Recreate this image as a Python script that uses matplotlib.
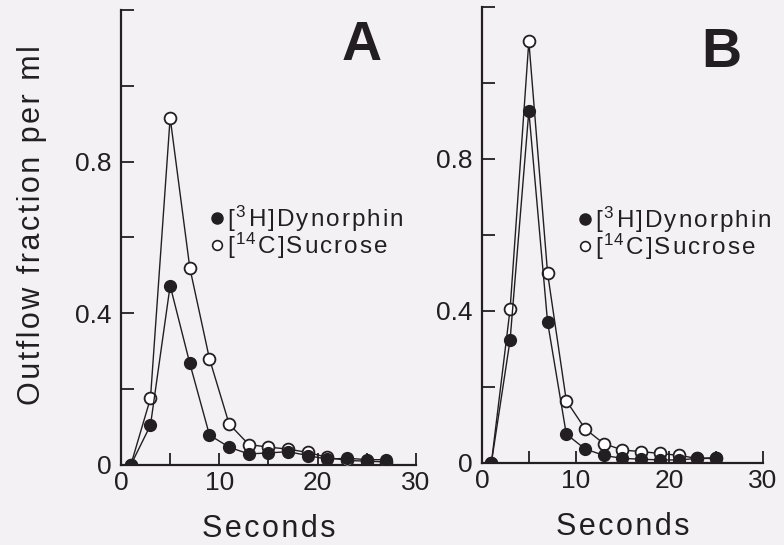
import matplotlib
matplotlib.use("Agg")
import matplotlib.pyplot as plt
from matplotlib.lines import Line2D

plt.rcParams['font.family'] = ['Liberation Sans', 'DejaVu Sans']
plt.rcParams['mathtext.default'] = 'regular'

ink = '#231e22'
paper = '#f4f1f4'
hs = '\u200a'  # hair space, used for the loose letter spacing

# sampling times (s), same for both experiments
t_a = [1, 3, 5, 7, 9, 11, 13, 15, 17, 19, 21, 23, 25, 27]
t_b = [1, 3, 5, 7, 9, 11, 13, 15, 17, 19, 21, 23, 25]

# panel A
dyn_a = [0.0, 0.105, 0.473, 0.268, 0.079, 0.047, 0.029, 0.032, 0.035, 0.025, 0.015, 0.018, 0.014, 0.014]
suc_a = [0.0, 0.176, 0.916, 0.52, 0.28, 0.108, 0.054, 0.047, 0.042, 0.033, 0.02, 0.012, 0.01, 0.008]

# panel B
dyn_b = [0.0, 0.324, 0.926, 0.371, 0.076, 0.037, 0.02, 0.012, 0.01, 0.008, 0.008, 0.012, 0.014]
suc_b = [0.0, 0.405, 1.11, 0.5, 0.164, 0.09, 0.051, 0.034, 0.03, 0.025, 0.02, 0.012, 0.012]

yticks = [0, 0.2, 0.4, 0.6, 0.8, 1.0, 1.2]
ylabels = ['0', '', '0.4', '', '0.8', '', '']
xticks = [0, 5, 10, 15, 20, 25, 30]
xlabels = ['0', '', '10', '', '20', '', '30']


def spaced(s):
    return hs.join(s)


lab_dyn = '[' + hs + '$^{3}$' + hs + spaced('H]Dynorphin')
lab_suc = '[' + hs + '$^{14}$' + hs + spaced('C]Sucrose')

fig = plt.figure(figsize=(7.84, 5.45), dpi=100, facecolor=paper)
axA = fig.add_axes([0.1543, 0.1468, 0.3763, 0.8349])
axB = fig.add_axes([0.6148, 0.1505, 0.3584, 0.8367])


def panel(ax, t, dyn, suc, letter, lx, ly, leg_at):
    ax.set_facecolor(paper)
    ax.plot(t, suc, '-o', color=ink, lw=1.0, ms=8.5, mfc='white', mec=ink, mew=1.3, zorder=3)
    ax.plot(t, dyn, '-o', color=ink, lw=1.0, ms=8.5, mfc=ink, mec=ink, mew=1.0, zorder=4)
    ax.set_xlim(0, 30)
    ax.set_ylim(0, 1.2)
    for s in ['top', 'right']:
        ax.spines[s].set_visible(False)
    for s in ['left', 'bottom']:
        ax.spines[s].set_linewidth(1.6)
        ax.spines[s].set_color(ink)
    ax.set_yticks(yticks)
    ax.set_yticklabels(ylabels)
    ax.set_xticks(xticks)
    ax.set_xticklabels(xlabels)
    ax.tick_params(axis='both', direction='in', length=9, width=1.3, color=ink,
                   labelcolor=ink, labelsize=19)
    ax.tick_params(axis='y', pad=7)
    ax.tick_params(axis='x', pad=4)
    ax.set_xlabel(spaced('Seconds'), fontsize=22, color=ink, labelpad=14)
    ax.text(lx, ly, letter, transform=ax.transAxes, fontsize=40, fontweight='bold',
            color=ink, ha='center', va='center')
    handles = [Line2D([], [], ls='none', marker='o', ms=8, mfc=ink, mec=ink),
               Line2D([], [], ls='none', marker='o', ms=7, mfc='white', mec=ink, mew=1.2)]
    ax.legend(handles, [lab_dyn, lab_suc], loc='upper left', bbox_to_anchor=leg_at,
              frameon=False, fontsize=17.5, handlelength=0.4, handletextpad=0.2,
              labelspacing=-0.12, borderpad=0, borderaxespad=0, labelcolor=ink)


panel(axA, t_a, dyn_a, suc_a, 'A', 0.815, 0.92, (0.31, 0.575))
panel(axB, t_b, dyn_b, suc_b, 'B', 0.85, 0.9, (0.349, 0.567))

fig.text(0.041, 0.587, spaced('Outflow fraction per ml'), rotation=90, fontsize=22,
         color=ink, ha='center', va='center')

fig.savefig('out.png', dpi=100, facecolor=paper)
